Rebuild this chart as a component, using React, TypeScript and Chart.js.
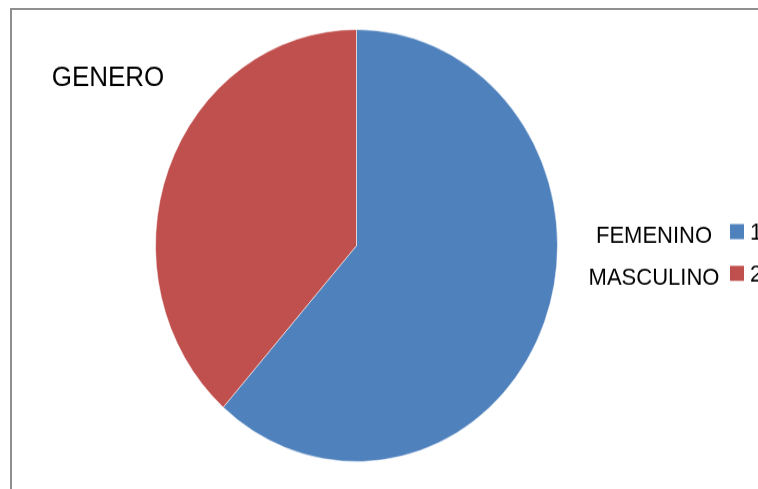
import React, { useEffect, useRef } from "react";
import { Chart, registerables } from "chart.js";

Chart.register(...registerables);

// ---- data ----
const chartTitle = "GENERO";
const categories = ["FEMENINO", "MASCULINO"];
const codes = ["1", "2"];
const values = [8, 5];
const sliceColors = ["#4F81BD", "#C0504D"];

// canvas bitmap is drawn at this size and stretched vertically to the page size
const CW = 758;
const CH = 455;
const SW = 758;
const SH = 489;

const FONT = '"Liberation Sans", Arial, sans-serif';

const excelLegend = {
  id: "excelLegend",
  afterDraw(chart: any) {
    const ctx = chart.ctx as CanvasRenderingContext2D;
    const colors = chart.data.datasets[0].backgroundColor as string[];
    ctx.save();
    ctx.fillStyle = "#000";
    ctx.textBaseline = "alphabetic";
    ctx.font = `26px ${FONT}`;
    ctx.textAlign = "center";
    ctx.fillText(chartTitle, 108, 80);

    ctx.font = `22px ${FONT}`;
    const labels = chart.data.labels as string[];
    labels.forEach((lab, i) => {
      const dy = i * 38.8;
      ctx.fillStyle = "#000";
      ctx.textAlign = "center";
      ctx.fillText(lab, 654, 225.8 + dy);
      ctx.fillStyle = colors[i];
      ctx.fillRect(730, 208.5 + dy, 14, 14);
      ctx.fillStyle = "#000";
      ctx.textAlign = "left";
      ctx.fillText(codes[i], 750, 223 + dy);
    });
    ctx.restore();
  },
};

export default function App() {
  const ref = useRef<HTMLCanvasElement | null>(null);
  useEffect(() => {
    if (!ref.current) return;
    const chart = new Chart(ref.current, {
      type: "pie",
      data: {
        labels: categories,
        datasets: [
          {
            data: values,
            backgroundColor: sliceColors,
            borderColor: "rgba(255,255,255,0.55)",
            borderWidth: 1,
          },
        ],
      },
      options: {
        responsive: false,
        animation: false,
        devicePixelRatio: 1,
        layout: {
          padding: { left: 155, right: 200, top: 27, bottom: 25 },
        },
        plugins: {
          legend: { display: false },
          title: { display: false },
          tooltip: { enabled: false },
        },
      },
      plugins: [excelLegend],
    });
    return () => chart.destroy();
  }, []);

  return (
    <div
      style={{
        position: "absolute",
        left: 0,
        top: 0,
        width: SW,
        height: SH,
        overflow: "hidden",
        background: "#fff",
      }}
    >
      <canvas
        ref={ref}
        width={CW}
        height={CH}
        style={{ position: "absolute", left: 0, top: 0, width: SW, height: SH, display: "block" }}
      />
      <div
        style={{
          position: "absolute",
          left: 10,
          top: 8,
          width: 900,
          height: 700,
          borderLeft: "2px solid #8f8f8f",
          borderTop: "2px solid #8f8f8f",
          boxSizing: "border-box",
          pointerEvents: "none",
        }}
      />
    </div>
  );
}
